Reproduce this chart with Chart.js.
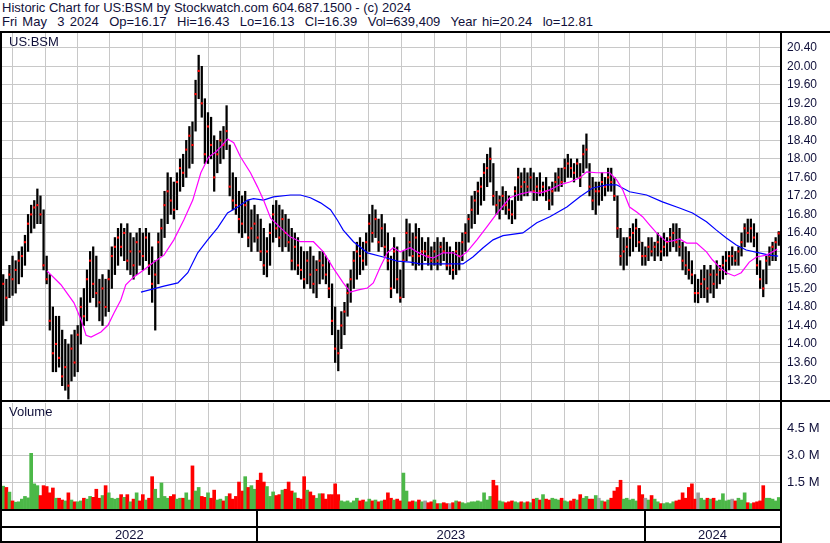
<!DOCTYPE html>
<html lang="en">
<head>
<meta charset="UTF-8">
<title>US:BSM - Historic Chart</title>
<script src="https://cdn.jsdelivr.net/npm/chart.js"></script>
<style>
  body { margin: 0; background: #fff; }
  #page { position: relative; width: 830px; height: 543px; overflow: hidden; font-family: 'Liberation Sans', Arial, sans-serif; color: #10103a; }
  .txt { position: absolute; white-space: pre; font-size: 13px; line-height: 14px; }
  .ln { position: absolute; background: #000; }
  canvas { position: absolute; left: 0; }
</style>
</head>
<body>
<div id="page">
  <div class="txt" style="left:2px;top:1px">Historic Chart for US:BSM by Stockwatch.com 604.687.1500 - (c) 2024</div>
  <div class="txt" style="left:2px;top:15px;word-spacing:1.6px">Fri May  3 2024  Op=16.17  Hi=16.43  Lo=16.13  Cl=16.39  Vol=639,409  Year hi=20.24  lo=12.81</div>
  <canvas id="price" width="830" height="368" style="top:32px"></canvas>
  <canvas id="volume" width="830" height="141" style="top:402px"></canvas>
  <div class="txt" style="left:9px;top:35px">US:BSM</div>
  <div class="txt" style="left:9px;top:405px">Volume</div>
  <div class="ln" style="left:0;top:31px;width:830px;height:2px"></div>
  <div class="ln" style="left:0;top:400px;width:830px;height:2px"></div>
  <div class="ln" style="left:0;top:31px;width:2px;height:512px"></div>
  <div class="ln" style="left:780px;top:31px;width:2px;height:512px"></div>
</div>
<script>
// daily bars, sampled about every second trading day, May 2022 - May 3 2024
const hi = [
  15.50,15.40,15.70,15.90,15.80,16.00,16.10,16.35,16.80,17.00,
  17.10,17.35,17.20,16.90,15.90,15.50,14.80,14.60,14.60,14.30,
  14.10,14.00,14.20,14.30,14.40,15.00,15.20,15.60,16.00,16.10,
  15.90,15.40,15.50,15.40,15.60,16.10,16.30,16.50,16.60,16.50,
  16.60,16.40,16.30,16.40,16.50,16.40,16.50,16.40,16.10,15.80,
  16.40,16.70,17.30,17.70,17.60,17.50,17.70,18.00,18.10,18.40,
  18.70,18.80,19.70,20.24,20.00,19.30,19.00,18.90,18.50,18.40,
  18.60,18.70,19.15,18.30,17.70,17.60,17.30,17.20,17.30,17.10,
  16.90,17.00,16.80,16.70,16.50,16.30,16.60,17.00,17.10,17.00,
  16.90,16.80,16.70,16.50,16.40,16.30,16.10,16.00,16.00,16.10,
  15.90,15.80,16.00,16.00,15.90,15.80,15.30,14.80,14.30,14.70,
  14.90,15.30,15.60,16.00,16.20,16.30,16.20,16.40,16.80,17.00,
  16.90,16.70,16.80,16.60,16.40,15.90,16.30,16.10,15.60,16.00,
  16.70,16.60,16.40,16.60,16.50,16.30,16.20,16.30,16.10,16.20,
  16.30,16.20,16.30,16.20,16.10,16.00,16.20,16.20,16.40,16.60,
  16.80,17.20,17.30,17.50,17.60,17.90,18.10,18.24,17.90,17.30,
  17.20,17.40,17.30,17.20,17.10,17.40,17.80,17.70,17.80,17.70,
  17.80,17.70,17.60,17.70,17.50,17.60,17.40,17.50,17.70,17.80,
  17.80,18.00,18.10,18.00,17.90,18.00,17.90,18.30,18.54,17.90,
  17.60,17.50,17.50,17.70,17.60,17.80,17.80,17.60,17.20,16.50,
  16.30,16.30,16.50,16.60,16.70,16.50,16.20,16.10,16.30,16.30,
  16.20,16.40,16.30,16.40,16.30,16.50,16.60,16.60,16.50,16.20,
  16.10,16.00,15.80,15.50,15.40,15.60,15.70,15.60,15.70,15.60,
  15.80,15.70,15.90,16.00,16.00,16.10,16.00,16.10,16.40,16.60,
  16.70,16.70,16.60,16.40,15.80,15.60,15.90,16.10,16.20,16.30,
  16.43
];
const lo = [
  14.40,14.50,15.00,15.05,15.10,15.30,15.45,15.70,16.00,16.40,
  16.50,16.60,16.60,15.60,15.30,14.30,13.40,13.40,13.50,13.10,
  13.00,12.81,13.20,13.30,13.40,14.00,14.40,14.50,14.90,15.00,
  14.80,14.50,14.40,14.60,14.70,15.20,15.50,15.70,15.90,15.80,
  15.60,15.50,15.40,15.50,15.70,15.60,15.80,15.50,14.90,14.30,
  15.30,15.90,16.30,16.60,16.80,16.70,16.90,17.30,17.40,17.60,
  17.80,17.90,18.60,19.30,18.90,17.90,17.90,18.00,17.30,17.70,
  17.90,18.00,18.20,17.20,16.90,16.80,16.40,16.30,16.40,16.10,
  16.00,16.20,16.00,15.80,15.50,15.45,15.70,16.20,16.30,16.10,
  16.00,16.10,16.00,15.60,15.60,15.50,15.40,15.20,15.30,15.20,
  15.10,15.00,15.30,15.40,15.30,15.00,14.20,13.60,13.42,13.90,
  14.20,14.60,14.90,15.20,15.40,15.50,15.60,15.70,16.00,16.20,
  16.30,16.00,16.10,15.90,15.60,15.00,15.20,15.10,14.90,15.00,
  15.80,15.90,15.70,15.60,15.70,15.60,15.80,15.70,15.60,15.70,
  15.60,15.70,15.80,15.60,15.50,15.40,15.50,15.60,15.80,16.00,
  16.20,16.50,16.60,16.80,17.00,17.10,17.40,17.50,17.00,16.80,
  16.70,16.90,16.80,16.70,16.60,16.70,17.10,17.10,17.20,17.20,
  17.30,17.10,17.10,17.20,17.20,17.10,16.90,17.00,17.30,17.30,
  17.40,17.50,17.60,17.60,17.50,17.60,17.40,17.70,17.80,17.20,
  16.90,16.80,17.00,17.10,17.20,17.30,17.30,17.10,16.30,15.70,
  15.60,15.70,15.90,16.00,16.10,16.00,15.70,15.70,15.80,15.90,
  15.80,15.90,15.80,15.90,15.90,16.00,16.10,16.00,15.90,15.60,
  15.50,15.40,15.30,14.90,14.89,15.00,15.00,14.90,15.10,15.00,
  15.20,15.30,15.40,15.50,15.60,15.70,15.70,15.70,15.90,16.10,
  16.20,16.20,16.10,15.50,15.20,15.02,15.30,15.70,15.80,15.80,
  16.13
];
const cl = [
  15.30,15.00,15.50,15.40,15.60,15.80,15.90,16.20,16.60,16.80,
  16.95,17.00,16.80,15.70,15.40,14.50,13.80,14.00,13.70,13.30,
  13.50,13.10,13.90,13.60,14.20,14.80,14.60,15.40,15.80,15.30,
  15.10,14.90,15.20,14.80,15.40,15.90,16.10,16.30,16.10,16.40,
  15.80,16.00,15.70,16.20,16.00,15.90,16.30,15.70,15.30,15.50,
  16.20,16.50,17.00,17.30,17.10,16.90,17.50,17.80,17.70,18.20,
  18.50,18.30,19.40,19.90,19.20,18.10,18.70,18.30,17.60,18.10,
  18.40,18.30,18.60,17.40,17.10,17.00,16.70,16.60,17.00,16.30,
  16.50,16.60,16.30,16.00,15.70,16.00,16.40,16.80,16.50,16.30,
  16.70,16.40,16.20,15.80,16.10,15.70,15.60,15.40,15.80,15.50,
  15.30,15.60,15.80,15.70,15.50,15.20,14.50,13.90,13.80,14.40,
  14.70,15.10,15.40,15.80,16.00,15.90,15.80,16.20,16.60,16.40,
  16.70,16.20,16.50,16.10,15.80,15.20,16.00,15.40,15.00,15.80,
  16.40,16.20,15.90,16.30,15.90,16.00,16.00,15.90,15.80,16.00,
  15.80,16.10,16.00,15.70,15.70,15.60,16.00,15.90,16.20,16.40,
  16.70,16.90,17.10,17.30,17.40,17.70,17.80,18.00,17.20,17.00,
  17.10,17.20,17.00,16.90,16.80,17.30,17.60,17.40,17.50,17.40,
  17.60,17.30,17.40,17.30,17.40,17.30,17.10,17.30,17.50,17.60,
  17.50,17.80,17.90,17.80,17.70,17.90,17.60,18.10,18.20,17.40,
  17.10,17.30,17.30,17.50,17.40,17.60,17.50,17.20,16.50,15.90,
  16.00,16.10,16.30,16.40,16.50,16.20,15.90,15.90,16.10,16.00,
  16.10,16.20,16.00,16.10,16.20,16.30,16.40,16.20,16.10,15.80,
  15.70,15.60,15.50,15.10,15.10,15.30,15.40,15.20,15.50,15.30,
  15.50,15.60,15.70,15.80,15.90,15.90,15.80,16.00,16.20,16.50,
  16.40,16.50,16.30,15.70,15.40,15.20,15.80,15.90,16.10,16.20,
  16.39
];
// volume in millions of shares
const vol = [
  1.27,1.2,0.94,0.45,0.38,0.4,0.55,0.7,0.62,3.1,
  1.4,1.3,0.75,1.3,1.25,0.9,1.17,0.6,0.6,0.5,
  0.45,0.9,0.5,0.4,0.4,0.45,0.6,0.55,0.7,0.65,
  1.1,0.6,0.75,1.3,0.9,0.6,0.55,0.6,0.8,0.65,
  0.8,0.4,0.55,0.9,0.45,0.8,0.5,0.6,1.8,1.1,
  0.6,1.45,0.7,0.6,0.7,0.8,0.55,0.6,0.6,0.9,
  0.5,2.4,1.0,1.2,0.7,0.65,0.9,0.6,1.05,0.5,
  0.55,0.45,0.7,0.85,0.55,0.7,1.5,1.0,1.8,1.2,
  1.3,1.1,1.6,2.0,1.5,1.25,0.7,0.95,0.75,0.8,
  1.05,1.1,1.5,1.0,0.9,0.6,0.55,1.8,1.05,0.95,
  0.75,0.6,0.85,0.85,0.55,0.8,0.8,1.4,0.8,0.45,
  0.4,0.45,0.35,0.45,0.6,0.45,0.5,0.4,0.55,0.45,
  0.5,0.4,0.45,0.5,0.9,0.6,0.5,0.55,0.45,2.0,
  1.0,0.4,0.45,0.4,0.5,0.4,0.45,0.35,0.4,0.5,
  0.3,0.3,0.35,0.3,0.3,0.35,0.45,0.4,0.35,0.3,
  0.35,0.4,0.4,0.45,0.4,0.9,0.5,0.7,1.6,1.3,
  0.45,0.4,0.35,0.4,0.45,0.4,0.35,0.4,0.35,0.4,
  0.35,0.55,0.6,0.5,0.8,0.55,0.5,0.6,0.55,0.5,
  0.6,0.45,0.4,0.45,0.55,0.5,0.8,0.6,0.7,0.55,
  0.55,0.75,0.6,0.45,0.4,0.5,0.6,1.0,1.2,1.6,
  0.55,0.6,0.5,0.55,0.45,1.3,0.8,0.6,0.5,0.75,
  0.55,0.4,0.3,0.3,0.35,0.3,0.4,0.45,0.5,0.9,
  0.6,1.2,1.4,0.55,0.9,0.6,0.5,0.6,0.55,0.6,
  0.45,0.5,0.85,0.45,0.5,0.55,0.45,0.6,0.5,0.9,
  0.35,0.3,0.35,0.4,0.45,1.3,0.6,0.6,0.55,0.45,
  0.64
];
// moving averages (bar position, price)
const fastIdx = [14.1,18.6,22.8,25.1,26.7,28.3,31.5,33.8,35.7,37.9,39.5,42.1,45.3,48.6,51.8,55.0,58.2,61.1,63.7,66.2,68.5,70.1,72.3,74.3,76.5,79.7,82.0,83.9,86.2,89.4,92.6,95.8,100.0,103.2,106.4,109.6,111.9,114.5,117.4,119.3,121.5,123.8,125.7,128.0,131.2,133.4,136.7,138.6,141.8,145.0,147.3,149.5,152.7,155.9,159.2,163.3,166.6,169.8,173.0,176.2,179.4,182.6,185.9,188.1,191.3,195.5,197.7,199.7,201.9,204.2,206.1,208.4,210.6,213.8,215.8,218.0,220.3,223.5,226.7,228.6,230.9,233.1,235.7,237.9,240.5,242.8,246.0,247.9,249.5];
const fastVal = [15.58,15.28,14.89,14.52,14.19,14.15,14.26,14.41,14.67,14.95,15.28,15.45,15.60,15.77,15.92,16.25,16.68,17.11,17.70,18.04,18.15,18.26,18.43,18.35,18.04,17.70,17.39,17.11,16.72,16.51,16.31,16.21,16.21,15.99,15.64,15.32,15.12,15.17,15.21,15.32,15.66,15.97,16.08,15.99,16.08,15.99,15.88,15.86,15.97,15.97,15.88,15.99,16.25,16.53,16.83,17.16,17.24,17.29,17.26,17.33,17.44,17.50,17.59,17.72,17.70,17.70,17.55,17.33,16.96,16.85,16.75,16.57,16.40,16.21,16.23,16.27,16.18,16.18,15.99,15.82,15.66,15.54,15.47,15.54,15.77,15.88,15.92,15.99,16.05];
const slowIdx = [44.4,51.8,56.3,59.5,62.7,65.9,69.1,72.3,75.6,78.8,80.7,83.9,87.1,92.6,95.8,99.0,102.3,105.5,107.7,109.6,112.9,117.4,122.5,127.0,131.2,134.4,138.6,145.0,148.2,151.4,154.7,157.9,161.1,167.5,172.0,176.2,181.7,185.9,190.0,194.5,197.7,201.9,207.4,212.5,218.0,222.2,226.7,229.9,233.1,236.3,239.5,243.7,246.9,249.8];
const slowVal = [15.12,15.25,15.32,15.54,15.97,16.25,16.51,16.83,16.96,17.11,17.14,17.11,17.18,17.22,17.22,17.16,17.05,16.90,16.68,16.46,16.21,15.97,15.88,15.79,15.77,15.73,15.73,15.73,15.73,15.88,16.08,16.25,16.34,16.40,16.62,16.75,16.96,17.18,17.37,17.44,17.44,17.29,17.22,17.07,16.94,16.83,16.64,16.46,16.29,16.14,16.03,15.97,15.92,15.90];

// month starts (bar position), year starts and axis ticks
const monthTicks = [8.4,19.0,28.9,39.9,50.2,61.1,71.4,81.7,92.3,101.9,112.5,123.2,133.8,144.1,154.7,165.6,175.2,186.5,197.1,206.9,218.0,228.0,238.3,249.2];
const yearLabels = ['2022', '2023', '2024'];
const yearStarts = [81.7, 206.9];
const priceTicks = [13.2,13.6,14.0,14.4,14.8,15.2,15.6,16.0,16.4,16.8,17.2,17.6,18.0,18.4,18.8,19.2,19.6,20.0,20.4];
const volTicks = [1.5, 3.0, 4.5];

Chart.defaults.font.family = "'Liberation Sans', Arial, sans-serif";
const gridGray = '#c8c8c8';
const labelColor = '#10103a';
const idx = hi.map((_, i) => i);

// keep the plot areas exactly where the panels are
const noPad = s => { s.paddingTop = 0; s.paddingBottom = 0; s.paddingLeft = 0; s.paddingRight = 0; };

const xAxis = {
    type: 'linear', min: -0.4, max: 250.4, offset: false,
    afterBuildTicks: s => { s.ticks = monthTicks.map(v => ({ value: v })); },
    ticks: { display: false },
    grid: { color: gridGray, drawTicks: false },
    border: { display: false },
    afterFit: s => { s.height = 0; noPad(s); }
};

new Chart(document.getElementById('price'), {
    type: 'bar',
    data: {
        datasets: [
            { type: 'line', data: fastIdx.map((x, k) => ({ x: x, y: fastVal[k] })), borderColor: '#ff00ff', borderWidth: 1.2, pointRadius: 0, order: 1 },
            { type: 'line', data: slowIdx.map((x, k) => ({ x: x, y: slowVal[k] })), borderColor: '#0000ff', borderWidth: 1.2, pointRadius: 0, order: 2 },
            { type: 'line', data: idx.map(i => ({ x: i, y: cl[i] })), showLine: false, pointStyle: 'rect', pointRadius: 1.5, pointBackgroundColor: '#ff0000', pointBorderWidth: 0, order: 3 },
            { type: 'bar', data: idx.map(i => ({ x: i, y: [lo[i], hi[i]] })), backgroundColor: '#000', barThickness: 1.6, order: 4 }
        ]
    },
    options: {
        responsive: false, animation: false, events: [],
        layout: { autoPadding: false, padding: { left: 2, top: 1, right: 0, bottom: 0 } },
        plugins: { legend: { display: false }, tooltip: { enabled: false } },
        scales: {
            x: xAxis,
            y: {
                position: 'right', min: 12.79, max: 20.72,
                afterBuildTicks: s => { s.ticks = priceTicks.map(v => ({ value: v })); },
                ticks: { callback: v => v.toFixed(2), color: labelColor, font: { size: 12 }, padding: 7 },
                grid: { color: gridGray, drawTicks: false },
                border: { display: false },
                afterFit: s => { s.width = 50; noPad(s); }
            }
        }
    }
});

// bottom strip with the year labels
const yearStrip = {
    id: 'yearStrip',
    afterDraw(chart) {
        const ctx = chart.ctx, x = chart.scales.x, base = chart.chartArea.bottom;
        const edges = [x.left].concat(yearStarts.map(v => x.getPixelForValue(v)), [x.right]);
        ctx.save();
        ctx.fillStyle = '#000';
        ctx.fillRect(0, base, 781, 2);
        ctx.fillRect(0, base + 17, 781, 2);
        ctx.fillRect(0, base + 32, 781, 2);
        yearStarts.forEach(v => ctx.fillRect(Math.round(x.getPixelForValue(v)) - 1, base, 2, 34));
        ctx.fillStyle = labelColor;
        ctx.font = "13px 'Liberation Sans', Arial, sans-serif";
        ctx.textAlign = 'center';
        ctx.textBaseline = 'middle';
        yearLabels.forEach((t, k) => ctx.fillText(t, (edges[k] + edges[k + 1]) / 2, base + 26));
        ctx.restore();
    }
};

new Chart(document.getElementById('volume'), {
    type: 'bar',
    data: {
        datasets: [{
            data: idx.map(i => ({ x: i, y: vol[i] })),
            backgroundColor: idx.map(i => i === 0 || cl[i] > cl[i - 1] ? '#4cb848' : (cl[i] < cl[i - 1] ? '#ff0000' : '#a0a0a0')),
            barThickness: 3
        }]
    },
    options: {
        responsive: false, animation: false, events: [],
        layout: { autoPadding: false, padding: { left: 2, top: 1, right: 0, bottom: 34 } },
        plugins: { legend: { display: false }, tooltip: { enabled: false } },
        scales: {
            x: xAxis,
            y: {
                position: 'right', min: 0, max: 5.9,
                afterBuildTicks: s => { s.ticks = volTicks.map(v => ({ value: v })); },
                ticks: { callback: v => v.toFixed(1) + ' M', color: labelColor, font: { size: 13 }, padding: 7 },
                grid: { color: gridGray, drawTicks: false },
                border: { display: false },
                afterFit: s => { s.width = 50; noPad(s); }
            }
        }
    },
    plugins: [yearStrip]
});
</script>
</body>
</html>
